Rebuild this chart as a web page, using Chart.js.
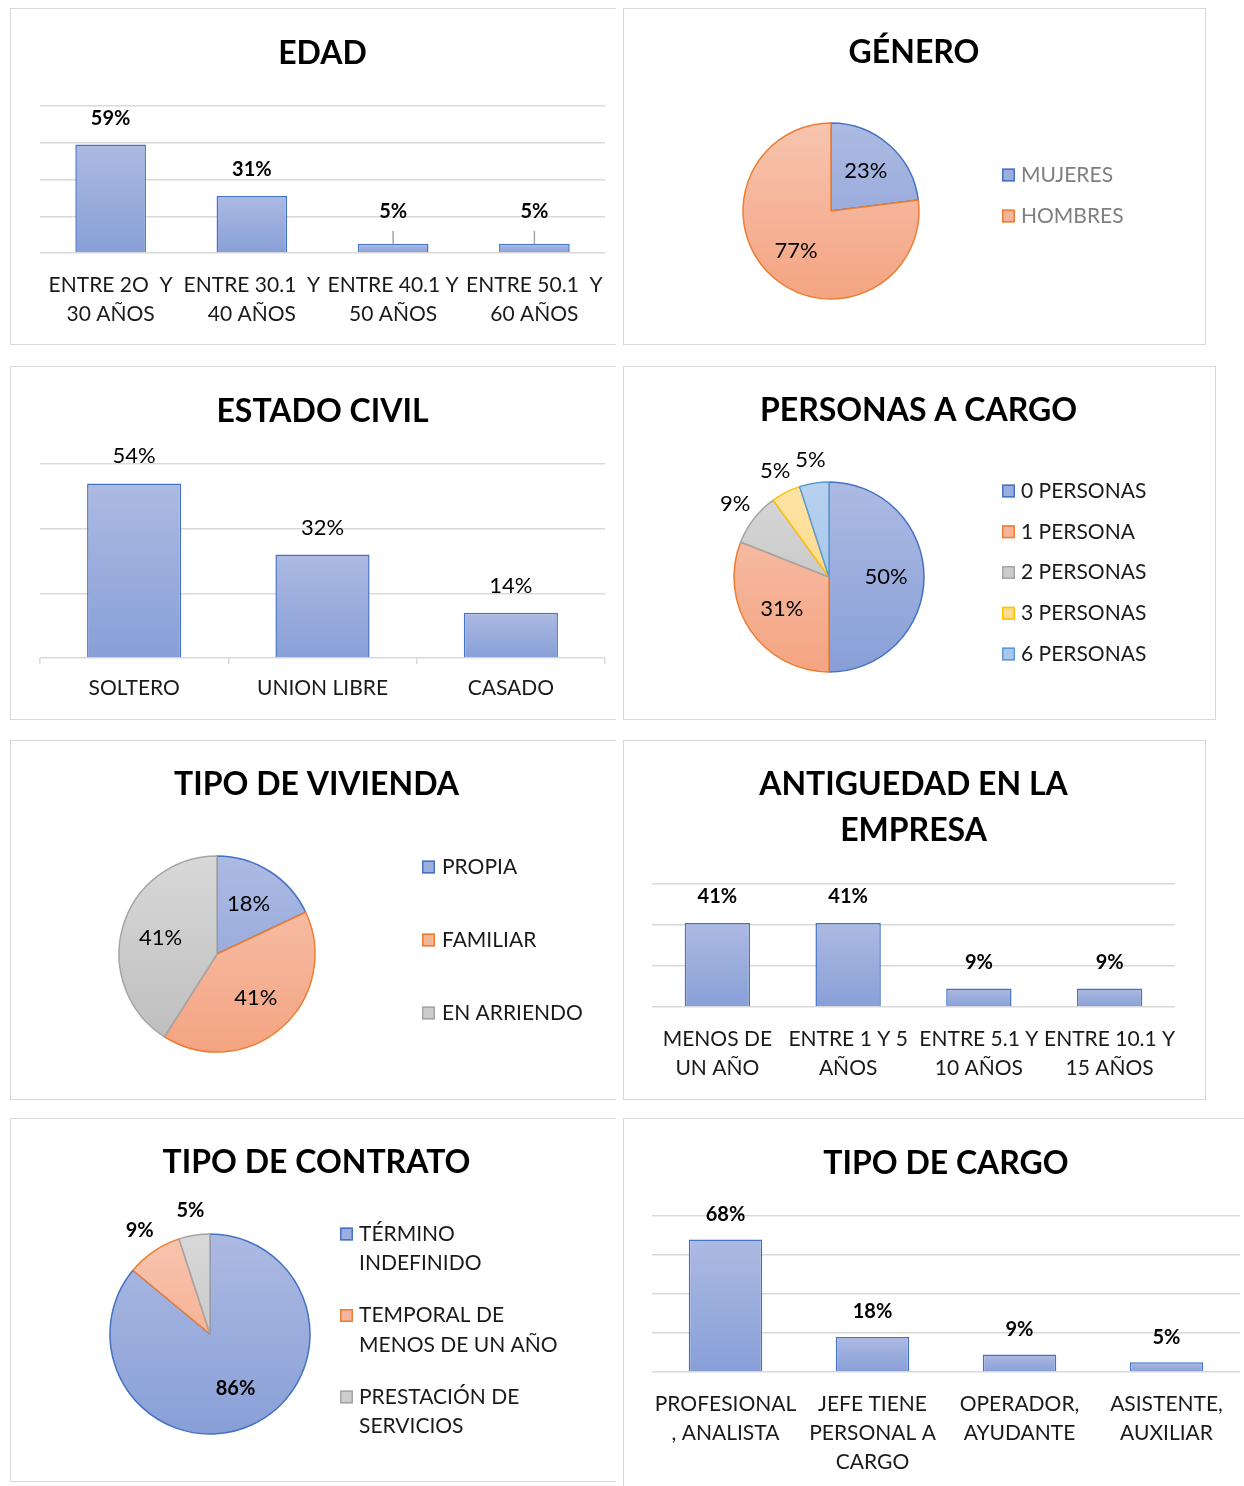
<!DOCTYPE html>
<html><head><meta charset="utf-8">
<script src="https://cdn.jsdelivr.net/npm/chart.js@4.4.0/dist/chart.umd.min.js"></script>
<style>
html,body{margin:0;padding:0;background:#fff;}
body{width:1244px;height:1486px;overflow:hidden;position:relative;}
.box{position:absolute;border:1px solid #d9d9d9;box-sizing:border-box;}
canvas{position:absolute;}
</style></head><body>
<div class="box" style="left:10px;top:8px;width:606px;height:337px;border-right:none"></div>
<div class="box" style="left:623px;top:8px;width:583px;height:337px"></div>
<div class="box" style="left:10px;top:366px;width:606px;height:354px;border-right:none"></div>
<div class="box" style="left:623px;top:366px;width:593px;height:354px"></div>
<div class="box" style="left:10px;top:740px;width:606px;height:360px;border-right:none"></div>
<div class="box" style="left:623px;top:740px;width:583px;height:360px"></div>
<div class="box" style="left:10px;top:1118px;width:606px;height:364px;border-right:none"></div>
<div class="box" style="left:623px;top:1118px;width:621px;height:380px;border-right:none;border-bottom:none"></div>

<canvas id="c1" width="624" height="337" style="left:10px;top:8px"></canvas>
<canvas id="c2" width="582" height="337" style="left:623px;top:8px"></canvas>
<canvas id="c3" width="626" height="354" style="left:10px;top:366px"></canvas>
<canvas id="c4" width="591" height="354" style="left:623px;top:366px"></canvas>
<canvas id="c5" width="613" height="360" style="left:10px;top:740px"></canvas>
<canvas id="c6" width="582" height="360" style="left:623px;top:740px"></canvas>
<canvas id="c7" width="613" height="364" style="left:10px;top:1118px"></canvas>
<canvas id="c8" width="645" height="368" style="left:623px;top:1118px"></canvas>

<script>
// ---------- DATA ----------
const edadLabels = [["ENTRE 2O  Y","30 AÑOS"],["ENTRE 30.1  Y","40 AÑOS"],["ENTRE 40.1 Y","50 AÑOS"],["ENTRE 50.1  Y","60 AÑOS"]];
const edadValues = [59,31,5,5];

const generoLabels = ["MUJERES","HOMBRES"];
const generoValues = [23,77];

const civilLabels = ["SOLTERO","UNION LIBRE","CASADO"];
const civilValues = [54,32,14];

const personasLabels = ["0 PERSONAS","1 PERSONA","2 PERSONAS","3 PERSONAS","6 PERSONAS"];
const personasValues = [50,31,9,5,5];

const viviendaLabels = ["PROPIA","FAMILIAR","EN ARRIENDO"];
const viviendaValues = [18,41,41];

const antigLabels = [["MENOS DE","UN AÑO"],["ENTRE 1 Y 5","AÑOS"],["ENTRE 5.1 Y","10 AÑOS"],["ENTRE 10.1 Y","15 AÑOS"]];
const antigValues = [41,41,9,9];

const contratoLabels = [["TÉRMINO","INDEFINIDO"],["TEMPORAL DE","MENOS DE UN AÑO"],["PRESTACIÓN DE","SERVICIOS"]];
const contratoValues = [86,9,5];

const cargoLabels = [["PROFESIONAL",", ANALISTA"],["JEFE TIENE","PERSONAL A","CARGO"],["OPERADOR,","AYUDANTE"],["ASISTENTE,","AUXILIAR"]];
const cargoValues = [68,18,9,5];

// ---------- STYLE ----------
const FONT = "Lato, 'Open Sans', 'DejaVu Sans', sans-serif";
const PAL = {
  blue:   {top:'#adbae2', bot:'#889fd7', border:'#4472c4', mid:'#9cade0'},
  orange: {top:'#f7c4af', bot:'#f4a482', border:'#ed7d31', mid:'#f5b59a'},
  gray:   {top:'#d8d8d8', bot:'#bdbdbd', border:'#a5a5a5', mid:'#cccccc'},
  yellow: {top:'#ffe4a6', bot:'#ffd47c', border:'#ffc000', mid:'#ffdc90'},
  lblue:  {top:'#b7d1ef', bot:'#9dbfe8', border:'#5b9bd5', mid:'#aac8eb'}
};
Chart.defaults.font.family = FONT;

function barGrad(ctx){
  const chart = ctx.chart;
  if(!chart.chartArea || !chart.scales.y) return PAL.blue.mid;
  const y = chart.scales.y;
  const t = y.getPixelForValue(ctx.raw), b = y.getPixelForValue(0);
  if (Math.abs(b - t) < 1) return PAL.blue.mid;
  const g = chart.ctx.createLinearGradient(0, t, 0, b);
  g.addColorStop(0, PAL.blue.top); g.addColorStop(1, PAL.blue.bot);
  return g;
}

const barLabels = {
  id:'barLabels',
  afterDatasetsDraw(chart, args, o){
    if(!o || !o.display) return;
    const c = chart.ctx, meta = chart.getDatasetMeta(0), vals = chart.data.datasets[0].data;
    const base = chart.scales.y.getPixelForValue(0);
    c.save();
    c.font = (o.weight||'normal') + ' ' + o.size + 'px ' + FONT;
    c.fillStyle = o.color || '#000'; c.textAlign = 'center'; c.textBaseline = 'middle';
    meta.data.forEach((bar,i)=>{
      let y = bar.y - o.offset;
      if (o.minAbove && base - y < o.minAbove){
        y = base - o.minAbove;
        c.strokeStyle = '#a6a6a6'; c.lineWidth = 1.5;
        c.beginPath(); c.moveTo(bar.x, y + 19); c.lineTo(bar.x, bar.y); c.stroke();
      }
      c.fillText(vals[i] + '%', bar.x, y);
    });
    c.restore();
  }
};

const pieLabels = {
  id:'pieLabels',
  afterDatasetsDraw(chart, args, o){
    if(!o || !o.display) return;
    const c = chart.ctx, meta = chart.getDatasetMeta(0), vals = chart.data.datasets[0].data;
    c.save();
    c.font = (o.weight||'normal') + ' ' + o.size + 'px ' + FONT;
    c.fillStyle = '#000'; c.textAlign = 'center'; c.textBaseline = 'middle';
    meta.data.forEach((arc,i)=>{
      const p = arc.getProps(['x','y','startAngle','endAngle','outerRadius'], true);
      const mid = (p.startAngle + p.endAngle)/2;
      const f = vals[i] < 10 ? o.outside : o.inside;
      c.fillText(vals[i] + '%', p.x + Math.cos(mid)*p.outerRadius*f, p.y + Math.sin(mid)*p.outerRadius*f);
    });
    c.restore();
  }
};

const sideLegend = {
  id:'sideLegend',
  afterDraw(chart, args, o){
    if(!o || !o.display) return;
    const c = chart.ctx;
    c.save();
    c.font = o.size + 'px ' + FONT;
    c.textAlign = 'left'; c.textBaseline = 'middle';
    chart.data.labels.forEach((lab,i)=>{
      const y = o.y + i*o.dy;
      const p = PAL[o.colors[i]];
      c.fillStyle = p.mid; c.fillRect(o.x, y-6.5, 13, 13);
      c.strokeStyle = p.border; c.lineWidth = 1.5; c.strokeRect(o.x+0.75, y-5.75, 11.5, 11.5);
      c.fillStyle = o.color;
      (Array.isArray(lab) ? lab : [lab]).forEach((t,j)=> c.fillText(t, o.tx, y + j*o.lineGap));
    });
    c.restore();
  }
};

// title for pie panels: centred on the panel, independent of the pie's chart area
const panelTitle = {
  id:'panelTitle',
  afterDraw(chart, args, o){
    if(!o || !o.text) return;
    const c = chart.ctx;
    c.save();
    c.font = 'bold 32px ' + FONT;
    c.fillStyle = '#000'; c.textAlign = 'center'; c.textBaseline = 'middle';
    c.fillText(o.text, o.x, o.y);
    c.restore();
  }
};
Chart.register(barLabels, pieLabels, sideLegend, panelTitle);

function titleOpts(text, padTop, padBottom, lh){
  return {display:true, text:text, color:'#000',
    font:{family:FONT, size:32, weight:'bold', lineHeight: lh || 1.2},
    padding:{top:padTop, bottom:padBottom}};
}

function barChart(id, labels, values, cfg){
  return new Chart(document.getElementById(id), {
    type:'bar',
    data:{labels:labels, datasets:[{data:values, backgroundColor:barGrad, borderColor:'#4472c4',
      borderWidth:1.5, barPercentage:0.5, categoryPercentage:1}]},
    options:{
      responsive:false, animation:false, devicePixelRatio:1, events:[],
      layout:{padding:{left:cfg.padL, right:cfg.padR, top:0, bottom:0}},
      plugins:{
        legend:{display:false}, tooltip:{enabled:false},
        title:titleOpts(cfg.title, cfg.tpT, cfg.tpB, cfg.titleLH),
        barLabels:{display:true, size:cfg.lblSize, weight:cfg.lblWeight, color:'#000', offset:cfg.lblOff, minAbove:cfg.minAbove}
      },
      scales:{
        x:{
          grid: cfg.xticks ? {display:true, drawOnChartArea:false, drawTicks:true, tickLength:6, color:'#d9d9d9', lineWidth:1.5}
                           : {display:false, drawTicks:false},
          border:{display:false},
          ticks:{color:'#1a1a1a', font:{family:FONT, size:21, lineHeight:1.38}, padding:cfg.tickPad,
                 maxRotation:0, minRotation:0, autoSkip:false},
          afterFit(s){ s.height = cfg.xH; }
        },
        y:{min:0, max:cfg.max, ticks:{display:false, stepSize:20},
           grid:{color:'#d9d9d9', lineWidth:1.5, drawTicks:false}, border:{display:false},
           afterFit(s){ s.width = 0; }}
      }
    }
  });
}

function pieChart(id, labels, values, cfg){
  const cols = cfg.colors;
  return new Chart(document.getElementById(id), {
    type:'pie',
    data:{labels:labels, datasets:[{data:values,
      backgroundColor:(ctx)=>{
        const p = PAL[cols[ctx.dataIndex]], ca = ctx.chart.chartArea;
        if(!ca) return p.mid;
        const cy = (ca.top + ca.bottom)/2;
        const g = ctx.chart.ctx.createLinearGradient(0, cy - cfg.r, 0, cy + cfg.r);
        g.addColorStop(0, p.top); g.addColorStop(1, p.bot);
        return g;
      },
      borderColor: cols.map(k=>PAL[k].border), borderWidth:1.5}]},
    options:{
      responsive:false, animation:false, devicePixelRatio:1, events:[],
      radius: cfg.r,
      layout:{padding:{left:cfg.padL, right:cfg.padR, top:cfg.padT, bottom:cfg.padB}},
      plugins:{
        legend:{display:false}, tooltip:{enabled:false}, title:{display:false},
        panelTitle:{text:cfg.title, x:cfg.tx, y:45},
        pieLabels:{display:true, size:cfg.lblSize, weight:cfg.lblWeight, inside:0.6, outside:1.25},
        sideLegend:{display:true, colors:cols, x:cfg.lx, tx:cfg.ltx, y:cfg.ly, dy:cfg.ldy, lineGap:29.5,
                    size:21, color:cfg.lcolor || '#1a1a1a'}
      }
    }
  });
}

// ---------- CHARTS ----------
barChart('c1', edadLabels, edadValues, {title:'EDAD', tpT:26, tpB:33.6, padL:30, padR:29, xH:92, tickPad:17.5,
  max:80, lblSize:20, lblWeight:'bold', lblOff:26, minAbove:41});

pieChart('c2', generoLabels, generoValues, {title:'GÉNERO', tx:291, padT:115, padL:120, padR:286, padB:46, r:88,
  colors:['blue','orange'], lblSize:22, lblWeight:'normal', lx:379, ltx:398, ly:167, ldy:41, lcolor:'#7f7f7f'});

barChart('c3', civilLabels, civilValues, {title:'ESTADO CIVIL', tpT:26, tpB:33.6, padL:30, padR:31, xH:62, tickPad:9.5,
  max:60, lblSize:22, lblWeight:'normal', lblOff:27, xticks:true});

pieChart('c4', personasLabels, personasValues, {title:'PERSONAS A CARGO', tx:295.5, padT:116, padL:111, padR:290, padB:48, r:95,
  colors:['blue','orange','gray','yellow','lblue'], lblSize:22, lblWeight:'normal', lx:379, ltx:398, ly:125, ldy:40.75});

pieChart('c5', viviendaLabels, viviendaValues, {title:'TIPO DE VIVIENDA', tx:306.5, padT:116, padL:109, padR:308, padB:48, r:98,
  colors:['blue','orange','gray'], lblSize:22, lblWeight:'normal', lx:412, ltx:432, ly:127, ldy:73});

barChart('c6', antigLabels, antigValues, {title:['ANTIGUEDAD EN LA','EMPRESA'], titleLH:1.4375, tpT:22, tpB:30, padL:29, padR:30,
  xH:93, tickPad:17.5, max:60, lblSize:20, lblWeight:'bold', lblOff:26});

pieChart('c7', contratoLabels, contratoValues, {title:'TIPO DE CONTRATO', tx:306.5, padT:116, padL:100, padR:313, padB:48, r:100,
  colors:['blue','orange','gray'], lblSize:20, lblWeight:'bold', lx:330, ltx:349, ly:116, ldy:81.5});

barChart('c8', cargoLabels, cargoValues, {title:'TIPO DE CARGO', tpT:26, tpB:33.6, padL:29, padR:28, xH:114, tickPad:17.5,
  max:80, lblSize:20, lblWeight:'bold', lblOff:25});
</script>
</body></html>
